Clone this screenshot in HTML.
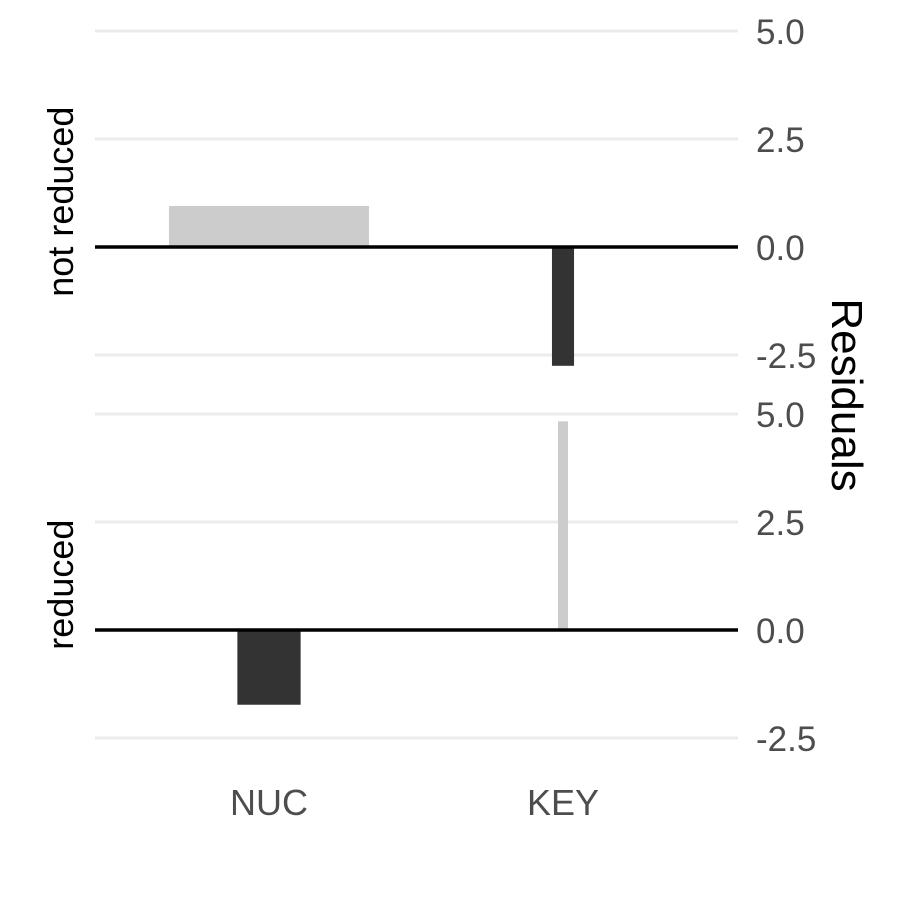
<!DOCTYPE html>
<html><head><meta charset="utf-8"><style>
body{margin:0;background:#fff;}
svg text{font-family:"Liberation Sans",Arial,sans-serif;}
</style></head><body>
<svg id="chart" width="900" height="900"></svg>
<script>
const categories = ["NUC", "KEY"];
const panels = ["not reduced", "reduced"];
const residualsNotReduced = [0.95, -2.75];
const residualsReduced = [-1.73, 4.83];
const widthsNotReduced = [0.68, 0.075];
const widthsReduced = [0.215, 0.034];
const tickLabels = ["5.0", "2.5", "0.0", "-2.5"];
const tickValues = [5, 2.5, 0, -2.5];

const NS = "http://www.w3.org/2000/svg";
const svg = document.getElementById("chart");
function mk(tag, attrs, parent){const e=document.createElementNS(NS,tag);for(const k in attrs)e.setAttribute(k,attrs[k]);(parent||svg).appendChild(e);return e;}

const plotL = 95, plotR = 738;
const bandW = (plotR - plotL) / categories.length * 0.915;
const centers = [269, 563];
function xCenter(i){return centers[i];}
const pxPerUnit = 43.2;
const panelZero = [247, 630];
function yScale(p, v){return panelZero[p] - v * pxPerUnit;}

const data = [residualsNotReduced, residualsReduced];
const widths = [widthsNotReduced, widthsReduced];

panels.forEach((pname, p) => {
  const g = mk("g", {});
  
  
  tickValues.forEach((tv, ti) => {
    const y = yScale(p, tv);
    if (tv !== 0) {
      const gl = mk("line", {x1: plotL, x2: plotR, y1: y, y2: y, stroke: "#ebebeb", "stroke-width": 3}, g);
      
      
    }
    const t = mk("text", {x: 756, y: y + 13, "font-size": 35, fill: "#4d4d4d"}, g);
    t.textContent = tickLabels[ti];
    
    
  });
  categories.forEach((c, i) => {
    const v = data[p][i];
    const w = widths[p][i] * bandW;
    const y0 = yScale(p, 0), y1 = yScale(p, v);
    const r = mk("rect", {x: xCenter(i) - w / 2, y: Math.min(y0, y1), width: w, height: Math.abs(y1 - y0), fill: v >= 0 ? "#cccccc" : "#333333"}, g);
    
    
  });
  const z = mk("line", {x1: plotL, x2: plotR, y1: yScale(p, 0), y2: yScale(p, 0), stroke: "#000", "stroke-width": 3.5}, g);
  
  
  const cy = yScale(p, 1.05);
  const fl = mk("text", {x: 73, y: cy, "font-size": 36, fill: "#000", "text-anchor": "middle", transform: `rotate(-90 73 ${cy})`}, g);
  fl.textContent = pname;
  
  
});

categories.forEach((c, i) => {
  const t = mk("text", {x: xCenter(i), y: 815, "font-size": 36, fill: "#4d4d4d", "text-anchor": "middle"});
  t.textContent = c;
  
  
});

const yt = mk("text", {x: 832, y: 395, "font-size": 44, fill: "#000", "text-anchor": "middle", transform: "rotate(90 832 395)"});
yt.textContent = "Residuals";


</script>
</body></html>
